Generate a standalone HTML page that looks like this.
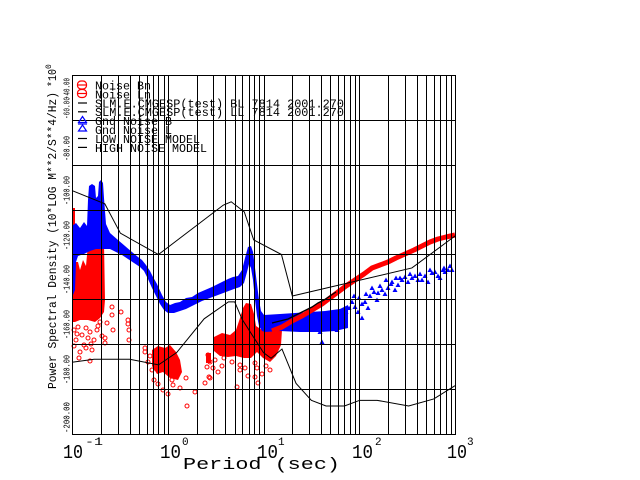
<!DOCTYPE html>
<html><head><meta charset="utf-8"><style>
html,body{margin:0;padding:0;background:#fff;}
svg{display:block;}
text{font-family:"Liberation Mono","DejaVu Sans Mono",monospace;fill:#000;}
</style></head><body>
<svg width="640" height="480" viewBox="0 0 640 480" xmlns="http://www.w3.org/2000/svg">
<rect width="640" height="480" fill="#fff"/>

<!-- RED data (left / center) -->
<g fill="#f00" stroke="none">
<polygon points="72,208 75,208 75,262 78,262 80,270 83,260 86,266 88,244 104,243 105,300 104,312 100,318 95,322 88,320 80,320 75,322 72,322"/>
<polygon points="152,350 158,346 165,348 170,345 176,352 180,360 182,372 178,380 170,378 163,372 157,374 152,366"/>
<polygon points="214,337 222,333 230,335 236,330 240,318 243,308 246,303 251,304 254,314 256,326 262,330 270,327 276,325 282,330 281,345 276,356 270,362 263,358 257,352 251,358 244,358 236,356 228,357 220,356 214,351"/>
<rect x="206" y="353" width="5" height="10"/>
</g>
<g fill="none" stroke="#f00" stroke-width="1">
<circle cx="74" cy="330" r="2"/><circle cx="78" cy="327" r="2"/><circle cx="82" cy="335" r="2"/><circle cx="86" cy="328" r="2"/>
<circle cx="90" cy="332" r="2"/><circle cx="94" cy="340" r="2"/><circle cx="98" cy="326" r="2"/><circle cx="102" cy="336" r="2"/>
<circle cx="76" cy="340" r="2"/><circle cx="84" cy="345" r="2"/><circle cx="88" cy="338" r="2"/><circle cx="92" cy="350" r="2"/>
<circle cx="96" cy="318" r="2"/><circle cx="100" cy="322" r="2"/><circle cx="74" cy="346" r="2"/><circle cx="80" cy="352" r="2"/>
<circle cx="86" cy="348" r="2"/><circle cx="79" cy="358" r="2"/><circle cx="90" cy="361" r="2"/><circle cx="112" cy="307" r="2"/>
<circle cx="112" cy="315" r="2"/><circle cx="107" cy="323" r="2"/><circle cx="113" cy="330" r="2"/><circle cx="105" cy="338" r="2"/>
<circle cx="105" cy="343" r="2"/><circle cx="128" cy="320" r="2"/><circle cx="128" cy="324" r="2"/><circle cx="129" cy="330" r="2"/>
<circle cx="129" cy="340" r="2"/><circle cx="145" cy="348" r="2"/><circle cx="152" cy="370" r="2"/><circle cx="100" cy="310" r="2"/>
<circle cx="97" cy="330" r="2"/><circle cx="83" cy="316" r="2"/><circle cx="77" cy="334" r="2"/><circle cx="91" cy="344" r="2"/>
<circle cx="154" cy="380" r="2"/><circle cx="163" cy="390" r="2"/><circle cx="173" cy="385" r="2"/><circle cx="180" cy="388" r="2"/>
<circle cx="172" cy="380" r="2"/><circle cx="186" cy="378" r="2"/><circle cx="195" cy="392" r="2"/><circle cx="187" cy="406" r="2"/>
<circle cx="150" cy="356" r="2"/><circle cx="148" cy="362" r="2"/><circle cx="158" cy="384" r="2"/><circle cx="168" cy="394" r="2"/>
<circle cx="176" cy="372" r="2"/><circle cx="208" cy="355" r="2"/><circle cx="210" cy="362" r="2"/><circle cx="215" cy="360" r="2"/>
<circle cx="213" cy="368" r="2"/><circle cx="222" cy="366" r="2"/><circle cx="207" cy="367" r="2"/><circle cx="210" cy="378" r="2"/>
<circle cx="224" cy="358" r="2"/><circle cx="218" cy="372" r="2"/><circle cx="240" cy="365" r="2"/><circle cx="245" cy="368" r="2"/>
<circle cx="257" cy="368" r="2"/><circle cx="255" cy="377" r="2"/><circle cx="258" cy="383" r="2"/><circle cx="237" cy="387" r="2"/>
<circle cx="240" cy="370" r="2"/><circle cx="250" cy="353" r="2"/><circle cx="255" cy="363" r="2"/><circle cx="205" cy="383" r="2"/>
<circle cx="209" cy="377" r="2"/><circle cx="232" cy="362" r="2"/><circle cx="266" cy="366" r="2"/><circle cx="270" cy="370" r="2"/>
<circle cx="262" cy="374" r="2"/><circle cx="248" cy="376" r="2"/><circle cx="145" cy="352" r="2"/><circle cx="121" cy="312" r="2"/>
</g>

<!-- BLUE data -->
<polygon fill="#00f" points="72,226 76,223 80,228 84,222 87,226 88,200 89,186 92,184 95,186 96,198 98,196 99,182 101,180 103,183 104,198 106,224 110,233 118,240 125,246 132,252 138,257 142,260 146,265 150,271 153,277 157,284 162,295 166,302 170,305 175,303 180,302 186,298 192,297 198,293 205,290 212,287 220,283 228,279 233,277 238,276 242,270 245,258 248,247 251,246 253,252 255,268 257,284 259,300 261,311 264,315 280,314 295,313 310,312 325,311 340,309 348,305 348,328 335,331 320,332 300,332 280,331 265,332 262,331 259,326 257,316 255,300 253,280 251,268 249,264 247,272 244,283 240,287 234,289 226,292 218,295 210,298 202,301 194,305 186,309 180,311 174,313 168,313 164,310 160,304 156,296 152,288 148,279 144,271 140,267 134,263 128,259 122,255 116,252 110,249 104,249 96,249 90,251 84,254 78,256 76,262 75,290 73,295 72,290"/>
<path fill="#00f" d="M317.5 334l5 0l-2.5-4.5z M319.5 344l5 0l-2.5-4.5z M334.5 332l5 0l-2.5-4.5z M335.5 325l5 0l-2.5-4.5z M341.5 320l5 0l-2.5-4.5z M343.5 314l5 0l-2.5-4.5z M346.5 310l5 0l-2.5-4.5z M349.5 304l5 0l-2.5-4.5z M352.5 309l5 0l-2.5-4.5z M355.5 314l5 0l-2.5-4.5z M359.5 320l5 0l-2.5-4.5z M359.5 306l5 0l-2.5-4.5z M362.5 304l5 0l-2.5-4.5z M365.5 310l5 0l-2.5-4.5z M367.5 298l5 0l-2.5-4.5z M371.5 294l5 0l-2.5-4.5z M374.5 302l5 0l-2.5-4.5z M375.5 295l5 0l-2.5-4.5z M379.5 292l5 0l-2.5-4.5z M382.5 296l5 0l-2.5-4.5z M385.5 290l5 0l-2.5-4.5z M388.5 286l5 0l-2.5-4.5z M392.5 292l5 0l-2.5-4.5z M395.5 287l5 0l-2.5-4.5z M399.5 282l5 0l-2.5-4.5z M402.5 279l5 0l-2.5-4.5z M405.5 284l5 0l-2.5-4.5z M409.5 280l5 0l-2.5-4.5z M412.5 278l5 0l-2.5-4.5z M415.5 282l5 0l-2.5-4.5z M419.5 282l5 0l-2.5-4.5z M422.5 278l5 0l-2.5-4.5z M425.5 284l5 0l-2.5-4.5z M429.5 275l5 0l-2.5-4.5z M432.5 274l5 0l-2.5-4.5z M435.5 278l5 0l-2.5-4.5z M437.5 280l5 0l-2.5-4.5z M440.5 272l5 0l-2.5-4.5z M442.5 274l5 0l-2.5-4.5z M445.5 272l5 0l-2.5-4.5z M449.5 272l5 0l-2.5-4.5z M351.5 298l5 0l-2.5-4.5z M356.5 300l5 0l-2.5-4.5z M363.5 296l5 0l-2.5-4.5z M369.5 290l5 0l-2.5-4.5z M377.5 288l5 0l-2.5-4.5z M389.5 284l5 0l-2.5-4.5z M397.5 280l5 0l-2.5-4.5z M407.5 276l5 0l-2.5-4.5z M417.5 276l5 0l-2.5-4.5z M427.5 272l5 0l-2.5-4.5z M441.5 270l5 0l-2.5-4.5z M447.5 268l5 0l-2.5-4.5z M383.5 282l5 0l-2.5-4.5z M393.5 280l5 0l-2.5-4.5z M338.5 318l5 0l-2.5-4.5z"/>

<!-- RED right band -->
<polyline fill="none" stroke="#f00" stroke-width="5" stroke-linejoin="round" points="272,331 282,327 292,321 302,316 312,310 322,304 330,298 338,292 346,286 355,280 364,274 372,268 380,265 388,262 396,258 405,254 414,250 422,246 430,242 438,239 446,237 455,235"/>
<polyline fill="none" stroke="#000" stroke-width="1.3" points="272,323 280,321 288,319 294,316 300,313 306,310 312,307 318,303 324,300 330,296 336,292"/>

<!-- GRID -->
<path fill="none" stroke="#000" stroke-width="1" shape-rendering="crispEdges" d="
M72.5 75V434M101.5 75V434M118.5 75V434M130.5 75V434M139.5 75V434M147.5 75V434M153.5 75V434M158.5 75V434M164.5 75V434
M168.5 75V434M197.5 75V434M213.5 75V434M225.5 75V434M235.5 75V434M242.5 75V434M249.5 75V434M254.5 75V434M259.5 75V434
M264.5 75V434M292.5 75V434M309.5 75V434M321.5 75V434M330.5 75V434M338.5 75V434M344.5 75V434M350.5 75V434M355.5 75V434
M359.5 75V434M388.5 75V434M405.5 75V434M417.5 75V434M426.5 75V434M434.5 75V434M440.5 75V434M446.5 75V434M451.5 75V434
M455.5 75V434
M72 75.5H456M72 120.5H456M72 165.5H456M72 210.5H456M72 254.5H456M72 299.5H456M72 344.5H456M72 389.5H456M72 434.5H456"/>

<!-- Noise models -->
<polyline fill="none" stroke="#000" stroke-width="1" points="72,190.55 104.79,203.79 120.37,233.18 158.47,254.5 223.26,205.14 231.21,201.77 244.29,211.87 253.7,239.92 281.46,254.5 292.32,296.01 411.91,267.96 455,236.03"/>
<polyline fill="none" stroke="#000" stroke-width="1" points="72,362.2 94.07,359.28 129.65,359.28 158.47,364.89 176.69,352.55 204.16,318.79 228.41,301.84 234.68,301.84 242.26,319.57 263.5,352.66 271.08,358.27 281.99,349.03 296.1,383.52 311.35,400.34 326.04,405.95 344.42,405.95 359.66,400.34 377.21,400.34 408.64,405.93 433.76,398.93 455,385.72"/>

<!-- Legend -->
<g fill="none" stroke="#f00" stroke-width="1.2">
<rect x="77.5" y="81" width="9" height="8" rx="3.5"/><line x1="78" y1="85" x2="86" y2="85"/>
<rect x="77.5" y="89.5" width="9" height="8" rx="3.5"/><line x1="78" y1="93.5" x2="86" y2="93.5"/>
</g>
<g fill="none" stroke="#00f" stroke-width="1.2">
<path d="M78.5 122.5L86.5 122.5L82.5 116.5Z"/><line x1="78" y1="124" x2="87" y2="124"/>
<path d="M78.5 131L86.5 131L82.5 125Z"/>
</g>
<g stroke="#000" stroke-width="1.2">
<line x1="78" y1="103" x2="87" y2="103"/>
<line x1="78" y1="111.8" x2="87" y2="111.8"/>
<line x1="78" y1="138.5" x2="87" y2="138.5"/>
<line x1="78" y1="147.4" x2="87" y2="147.4"/>
</g>
<g font-size="11.5">
<text x="95" y="89.5" textLength="56" lengthAdjust="spacingAndGlyphs">Noise Bn</text>
<text x="95" y="98.4" textLength="56" lengthAdjust="spacingAndGlyphs">Noise Ln</text>
<text x="95" y="107.3" textLength="249" lengthAdjust="spacingAndGlyphs">SLM.E.CMGESP(test) BL 7814 2001.270</text>
<text x="95" y="116.2" textLength="249" lengthAdjust="spacingAndGlyphs">SLM.E.CMGESP(test) LL 7814 2001.270</text>
<text x="95" y="125.1" textLength="77" lengthAdjust="spacingAndGlyphs">Gnd Noise B</text>
<text x="95" y="134" textLength="77" lengthAdjust="spacingAndGlyphs">Gnd Noise L</text>
<text x="95" y="142.9" textLength="105" lengthAdjust="spacingAndGlyphs">LOW NOISE MODEL</text>
<text x="95" y="151.8" textLength="112" lengthAdjust="spacingAndGlyphs">HIGH NOISE MODEL</text>
</g>

<!-- Y tick labels -->
<g font-size="9.5">
<text transform="translate(69.5,433) rotate(-90)" textLength="31" lengthAdjust="spacingAndGlyphs">-200.00</text>
<text transform="translate(69.5,384) rotate(-90)" textLength="29" lengthAdjust="spacingAndGlyphs">-180.00</text>
<text transform="translate(69.5,339) rotate(-90)" textLength="29" lengthAdjust="spacingAndGlyphs">-160.00</text>
<text transform="translate(69.5,294) rotate(-90)" textLength="29" lengthAdjust="spacingAndGlyphs">-140.00</text>
<text transform="translate(69.5,250) rotate(-90)" textLength="29" lengthAdjust="spacingAndGlyphs">-120.00</text>
<text transform="translate(69.5,205) rotate(-90)" textLength="29" lengthAdjust="spacingAndGlyphs">-100.00</text>
<text transform="translate(69.5,161) rotate(-90)" textLength="25" lengthAdjust="spacingAndGlyphs">-80.00</text>
<text transform="translate(69.5,119) rotate(-90)" textLength="22" lengthAdjust="spacingAndGlyphs">-60.00</text>
<text transform="translate(69.5,99) rotate(-90)" textLength="21" lengthAdjust="spacingAndGlyphs">-40.00</text>
</g>
<!-- Y axis title -->
<text font-size="11.5" transform="translate(56,389) rotate(-90)" textLength="297" lengthAdjust="spacingAndGlyphs">Power Spectral Density (10*LOG M**2/S**4/Hz)</text>
<text font-size="11.5" transform="translate(56,87) rotate(-90)" textLength="18" lengthAdjust="spacingAndGlyphs">*10</text>
<text font-size="8" transform="translate(51,69) rotate(-90)">0</text>

<!-- X tick labels -->
<g font-size="19.5">
<text x="63" y="458" textLength="20" lengthAdjust="spacingAndGlyphs">10</text>
<text x="160" y="458" textLength="21" lengthAdjust="spacingAndGlyphs">10</text>
<text x="257" y="458" textLength="21" lengthAdjust="spacingAndGlyphs">10</text>
<text x="352" y="458" textLength="21" lengthAdjust="spacingAndGlyphs">10</text>
<text x="447" y="458" textLength="20" lengthAdjust="spacingAndGlyphs">10</text>
</g>
<g font-size="11">
<text x="85" y="445" textLength="18" lengthAdjust="spacingAndGlyphs">-1</text>
<text x="182" y="445">0</text>
<text x="278" y="445">1</text>
<text x="375" y="445">2</text>
<text x="467" y="445">3</text>
</g>
<text x="183" y="469" font-size="16.5" textLength="157" lengthAdjust="spacingAndGlyphs">Period (sec)</text>
</svg>
</body></html>
